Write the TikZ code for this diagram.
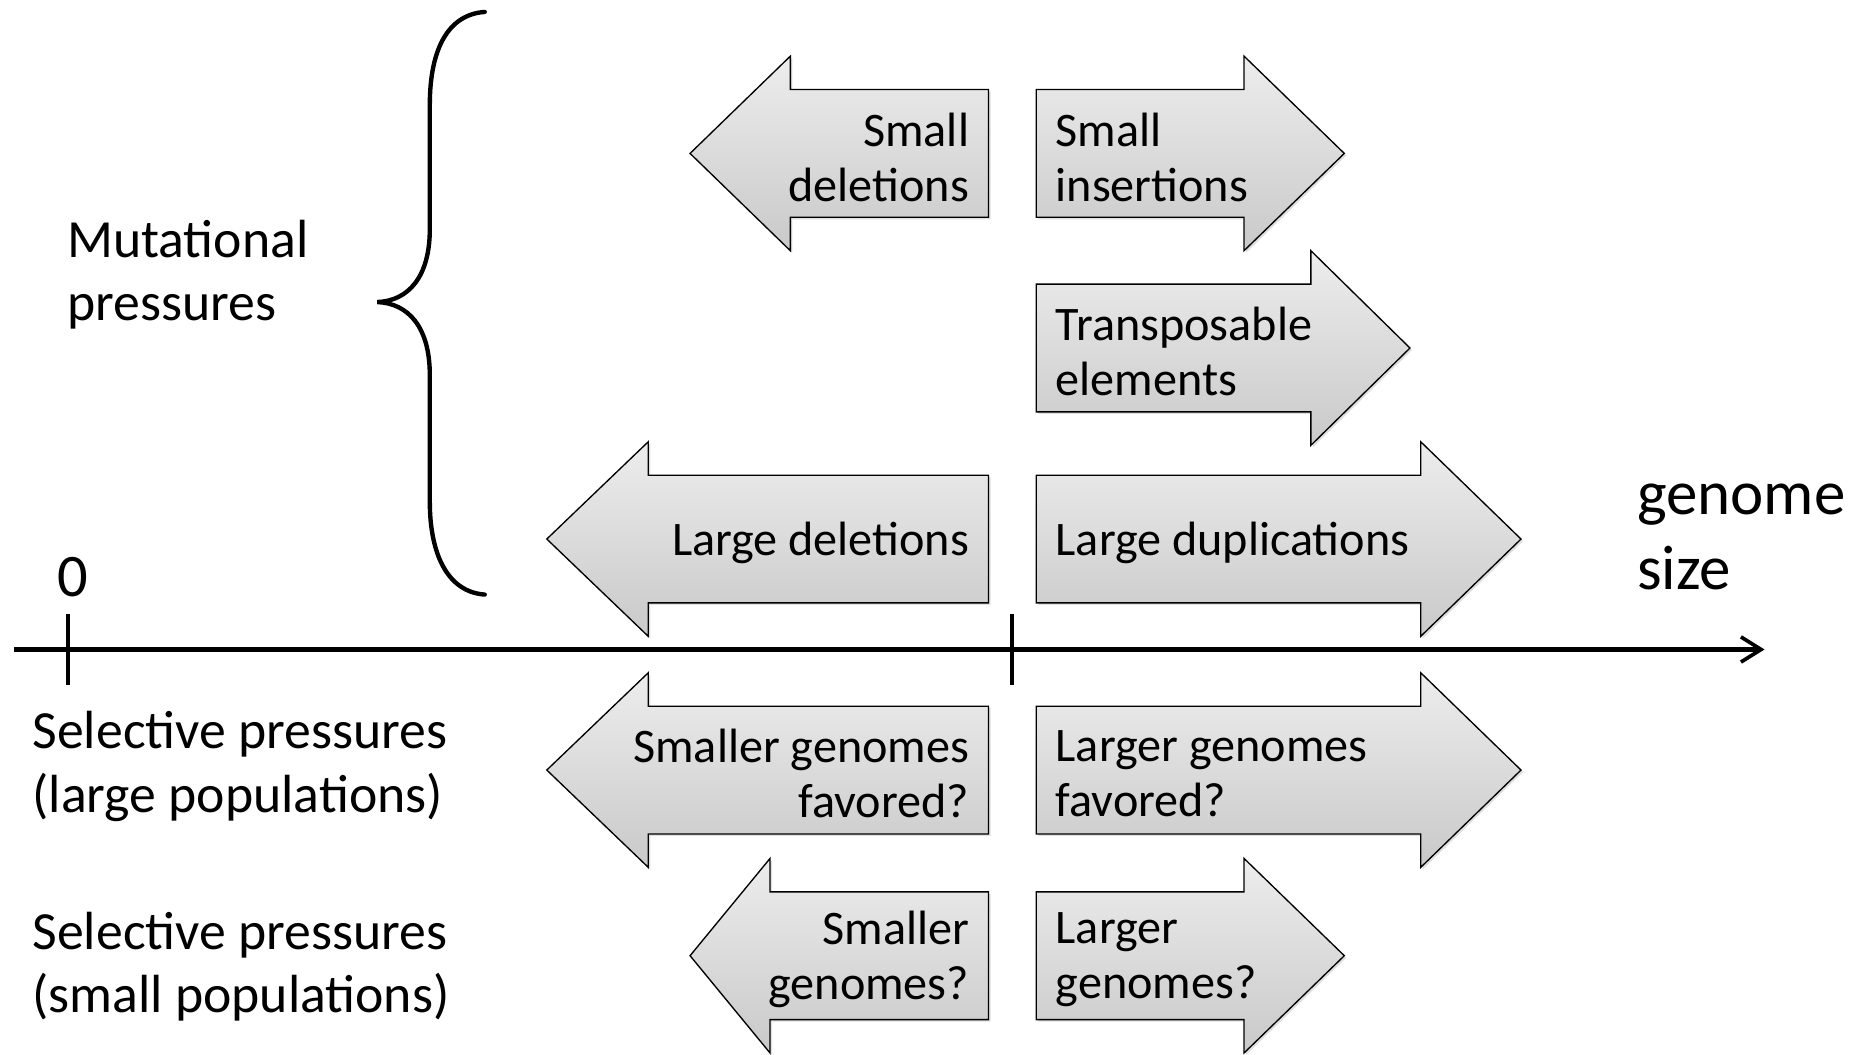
\documentclass[tikz,border=0pt]{standalone}
\usepackage{fontspec}
\setmainfont{Carlito}
\usetikzlibrary{arrows.meta,shadows}
\definecolor{blockTop}{HTML}{EDEDED}
\definecolor{blockBottom}{HTML}{C9C9C9}
\tikzset{
  blockarr/.style={draw=black,line width=.8pt,top color=blockTop,bottom color=blockBottom,
    drop shadow={shadow xshift=1.2pt,shadow yshift=-1.2pt,opacity=.25}},
  arrtext/.style={inner sep=0pt,font=\fontsize{28.7}{32.8}\selectfont},
  sidelabel/.style={inner sep=0pt,anchor=west,align=left,font=\fontsize{32}{37.6}\selectfont},
  axisline/.style={line width=2.5pt,-{Straight Barb[length=12pt,width=15pt,line width=2.2pt]}},
  tick/.style={line width=2.3pt},
  brace/.style={line width=2.6pt,line cap=round}
}
\begin{document}
\begin{tikzpicture}[x=.025cm,y=-.025cm]
  \useasboundingbox (0,0) rectangle (1568,883);
  % block arrows pointing left (towards smaller genomes)
  \foreach \nm/\tipx/\backx/\cy/\txt in {
    sdel/578/662/128.5/{Small\\deletions},
    ldel/458/543/451.5/{Large deletions},
    sfav/458/543/645/{Smaller genomes\\favored?},
    sgen/578/645/800.5/{Smaller\\genomes?}}{
      \path[blockarr] (\tipx,\cy) -- (\backx,\cy-81.5) -- (\backx,\cy-53.5) -- (828,\cy-53.5)
        -- (828,\cy+53.5) -- (\backx,\cy+53.5) -- (\backx,\cy+81.5) -- cycle;
      \node[arrtext,anchor=east,align=right] (\nm) at (812,\cy+3) {\txt};
  }
  % block arrows pointing right (towards larger genomes)
  \foreach \nm/\tipx/\backx/\cy/\txt in {
    sins/1126/1042/128.5/{Small\\insertions},
    trans/1181/1098/291.5/{Transposable\\elements},
    ldup/1274/1190/451.5/{Large duplications},
    lfav/1274/1190/645/{Larger genomes\\favored?},
    lgen/1126/1042/800.5/{Larger\\genomes?}}{
      \path[blockarr] (868,\cy-53.5) -- (\backx,\cy-53.5) -- (\backx,\cy-81.5) -- (\tipx,\cy)
        -- (\backx,\cy+81.5) -- (\backx,\cy+53.5) -- (868,\cy+53.5) -- cycle;
      \node[arrtext,anchor=west,align=left] (\nm) at (884,\cy+3) {\txt};
  }
  % genome size axis
  \coordinate (axstart) at (12,544);
  \coordinate (axend) at (1478,544);
  \draw[axisline] (axstart) -- (axend);
  \coordinate (zerotop) at (57,514);
  \coordinate (zerobot) at (57,574);
  \draw[tick] (zerotop) -- (zerobot);
  \coordinate (midtop) at (848,514);
  \coordinate (midbot) at (848,574);
  \draw[tick] (midtop) -- (midbot);
  \node[inner sep=0pt,font=\fontsize{36}{40}\selectfont] (zero) at (61,483) {0};
  \node[inner sep=0pt,anchor=west,align=left,font=\fontsize{37.5}{44.6}\selectfont] (gsize)
    at (1371,450) {genome\\size};
  % brace around the mutational pressures
  \draw[brace] (406,10) .. controls (376,12) and (360,40) .. (360,88) -- (360,192)
    .. controls (360,232) and (342,252) .. (316,253)
    .. controls (342,254) and (360,274) .. (360,314) -- (360,420)
    .. controls (360,466) and (376,496) .. (406,498);
  \node[sidelabel] (mut) at (56,230) {Mutational\\pressures};
  \node[sidelabel] (selbig) at (27,642) {Selective pressures\\(large populations)};
  \node[sidelabel] (selsmall) at (27,810) {Selective pressures\\(small populations)};
\end{tikzpicture}
\end{document}
